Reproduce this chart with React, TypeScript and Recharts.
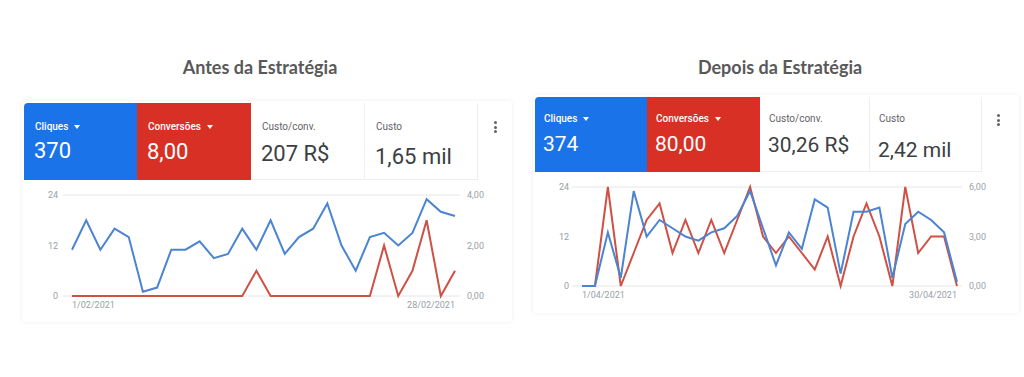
import React from 'react';
import { LineChart, Line, XAxis, YAxis, CartesianGrid } from 'recharts';

const BEFORE_DATES = ['1/02/2021', '2/02/2021', '3/02/2021', '4/02/2021', '5/02/2021', '6/02/2021', '7/02/2021', '8/02/2021', '9/02/2021', '10/02/2021', '11/02/2021', '12/02/2021', '13/02/2021', '14/02/2021', '15/02/2021', '16/02/2021', '17/02/2021', '18/02/2021', '19/02/2021', '20/02/2021', '21/02/2021', '22/02/2021', '23/02/2021', '24/02/2021', '25/02/2021', '26/02/2021', '27/02/2021', '28/02/2021'];
const BEFORE_CLIQUES = [11, 18, 11, 16, 14, 1, 2, 11, 11, 13, 9, 10, 16, 11, 18, 10, 14, 16, 22, 12, 6, 14, 15, 12, 15, 23, 20, 19];
const BEFORE_CONVERSOES = [0, 0, 0, 0, 0, 0, 0, 0, 0, 0, 0, 0, 0, 1, 0, 0, 0, 0, 0, 0, 0, 0, 2, 0, 1, 3, 0, 1];

const AFTER_DATES = ['1/04/2021', '2/04/2021', '3/04/2021', '4/04/2021', '5/04/2021', '6/04/2021', '7/04/2021', '8/04/2021', '9/04/2021', '10/04/2021', '11/04/2021', '12/04/2021', '13/04/2021', '14/04/2021', '15/04/2021', '16/04/2021', '17/04/2021', '18/04/2021', '19/04/2021', '20/04/2021', '21/04/2021', '22/04/2021', '23/04/2021', '24/04/2021', '25/04/2021', '26/04/2021', '27/04/2021', '28/04/2021', '29/04/2021', '30/04/2021'];
const AFTER_CLIQUES = [0, 0, 13, 2, 23, 12, 16, 14, 12, 11, 13, 14, 17, 23, 14, 5, 13, 9, 21, 19, 3, 18, 18, 19, 2, 15, 18, 16, 13, 1];
const AFTER_CONVERSOES = [0, 0, 6, 0, 2, 4, 5, 2, 4, 2, 4, 2, 4, 6, 3, 2, 3, 2, 1, 3, 0, 3, 5, 3, 0, 6, 2, 3, 3, 0];

const CLICK_TICKS = [0, 12, 24];
const BEFORE_CONV_TICKS = [0, 2, 4];
const AFTER_CONV_TICKS = [0, 3, 6];

const TITLES = ['Antes da Estratégia', 'Depois da Estratégia'];
const CARD_LABELS = ['Cliques', 'Conversões', 'Custo/conv.', 'Custo'];
const BEFORE_CARD_VALUES = ['370', '8,00', '207 R$', '1,65 mil'];
const AFTER_CARD_VALUES = ['374', '80,00', '30,26 R$', '2,42 mil'];

const BLUE_LINE = '#4a84d2';
const RED_LINE = '#cf5044';
const BLUE_CARD = '#1a73e8';
const RED_CARD = '#d93025';
const FONT = 'Roboto, sans-serif';

const fmtConv = (v: number) => v.toFixed(2).replace('.', ',');

type Geom = {
  titleX: number; titleY: number;
  boxL: number; boxT: number; boxW: number; boxH: number;
  cardTop: number; cardH: number; cardXs: number[];
  textL: number;
  labelOff: number; valueOffs: number[]; valueFont: number;
  dotsX: number; dotsY: number;
  chartL: number; chartT: number; chartW: number; chartH: number;
  yLeftW: number; yRightW: number; padL: number; padR: number;
  xAxisH: number; leftTickMargin: number; rightTickMargin: number;
};

const XTick = (props: any) => {
  const { x, y, payload, first } = props;
  const anchor = payload.value === first ? 'start' : 'end';
  return (
    <text x={x} y={y} dy="0.71em" textAnchor={anchor} fontSize={9} fill="#9aa0a6" fontFamily={FONT}>
      {payload.value}
    </text>
  );
};

function Panel(props: {
  title: string; dates: string[]; clicks: number[]; convs: number[];
  convTicks: number[]; values: string[]; g: Geom;
}) {
  const { title, dates, clicks, convs, convTicks, values, g } = props;
  const data = dates.map((d, i) => ({ date: d, cliques: clicks[i], conversoes: convs[i] }));
  const first = dates[0];
  const last = dates[dates.length - 1];
  const convMax = convTicks[convTicks.length - 1];
  return (
    <>
      <div style={{ position: 'absolute', left: g.titleX - 150, width: 300, top: g.titleY, textAlign: 'center', fontFamily: 'Lato, sans-serif', fontWeight: 700, fontSize: 18, lineHeight: '20px', color: '#595959' }}>
        {title}
      </div>
      <div style={{ position: 'absolute', left: g.boxL, top: g.boxT, width: g.boxW, height: g.boxH, background: '#fff', boxShadow: '0 0 4px rgba(0,0,0,0.07)', borderRadius: 3 }} />
      {values.map((v, i) => {
        const x0 = g.cardXs[i];
        const x1 = g.cardXs[i + 1];
        const bg = i === 0 ? BLUE_CARD : i === 1 ? RED_CARD : '#fff';
        const light = i < 2;
        return (
          <div key={i} style={{ position: 'absolute', left: x0, top: g.cardTop, width: x1 - x0, height: g.cardH, background: bg, borderTopLeftRadius: i === 0 ? 4 : 0, boxSizing: 'border-box', borderRight: light ? 'none' : '1px solid #eeeeee', borderBottom: light ? 'none' : '1px solid #eeeeee' }}>
            <div style={{ position: 'absolute', left: g.textL, top: g.labelOff, fontFamily: FONT, fontSize: 10, lineHeight: '10px', fontWeight: light ? 500 : 400, color: light ? '#ffffff' : '#5f6368', whiteSpace: 'nowrap' }}>
              {CARD_LABELS[i]}
              {light && <span style={{ display: 'inline-block', marginLeft: 6, verticalAlign: 'middle', width: 0, height: 0, borderLeft: '3.5px solid transparent', borderRight: '3.5px solid transparent', borderTop: '4px solid #fff' }} />}
            </div>
            <div style={{ position: 'absolute', left: g.textL - 1, top: g.valueOffs[i], fontFamily: FONT, fontSize: g.valueFont, lineHeight: `${g.valueFont}px`, color: light ? '#ffffff' : '#3c4043', whiteSpace: 'nowrap' }}>
              {v}
            </div>
          </div>
        );
      })}
      {[0, 1, 2].map((k) => (
        <div key={k} style={{ position: 'absolute', left: g.dotsX - 1.5, top: g.dotsY + k * 4.5, width: 3, height: 3, borderRadius: 2, background: '#5f6368' }} />
      ))}
      <div style={{ position: 'absolute', left: g.chartL, top: g.chartT }}>
        <LineChart width={g.chartW} height={g.chartH} data={data} margin={{ top: 10, right: 0, bottom: 0, left: 0 }}>
          <CartesianGrid horizontal vertical={false} stroke="#e6e6e6" />
          <XAxis dataKey="date" ticks={[first, last]} interval={0} padding={{ left: g.padL, right: g.padR }} axisLine={false} tickLine={false} tickSize={0} tickMargin={6} height={g.xAxisH} tick={<XTick first={first} />} />
          <YAxis yAxisId="left" orientation="left" domain={[0, 24]} ticks={CLICK_TICKS} width={g.yLeftW} axisLine={false} tickLine={false} tickSize={0} tickMargin={g.leftTickMargin} tick={{ fontSize: 9, fill: '#9aa0a6', fontFamily: FONT }} />
          <YAxis yAxisId="right" orientation="right" domain={[0, convMax]} ticks={convTicks} tickFormatter={fmtConv} width={g.yRightW} axisLine={false} tickLine={false} tickSize={0} tickMargin={g.rightTickMargin} tick={{ fontSize: 9, fill: '#9aa0a6', fontFamily: FONT, textAnchor: 'start' }} />
          <Line yAxisId="right" dataKey="conversoes" type="linear" stroke={RED_LINE} strokeWidth={2} dot={false} isAnimationActive={false} />
          <Line yAxisId="left" dataKey="cliques" type="linear" stroke={BLUE_LINE} strokeWidth={2} dot={false} isAnimationActive={false} />
        </LineChart>
      </div>
    </>
  );
}

const LEFT_G: Geom = {
  titleX: 260, titleY: 57,
  boxL: 22, boxT: 101, boxW: 490, boxH: 221,
  cardTop: 103, cardH: 77, cardXs: [24, 137, 251, 365, 478],
  textL: 11,
  labelOff: 19, valueOffs: [37, 38, 40, 43], valueFont: 22,
  dotsX: 495, dotsY: 121,
  chartL: 24, chartT: 185, chartW: 488, chartH: 130,
  yLeftW: 39, yRightW: 52, padL: 9, padR: 5,
  xAxisH: 19, leftTickMargin: 5, rightTickMargin: 7,
};

const RIGHT_G: Geom = {
  titleX: 780, titleY: 57,
  boxL: 533, boxT: 95, boxW: 486, boxH: 218,
  cardTop: 97, cardH: 75, cardXs: [535, 647, 760, 870, 982],
  textL: 9,
  labelOff: 17, valueOffs: [37, 37, 38, 43], valueFont: 21,
  dotsX: 998, dotsY: 114,
  chartL: 535, chartT: 177, chartW: 483, chartH: 128,
  yLeftW: 37, yRightW: 56, padL: 10, padR: 5,
  xAxisH: 19, leftTickMargin: 3, rightTickMargin: 7,
};

export default function App() {
  return (
    <div style={{ position: 'absolute', left: 0, top: 0, width: 1024, height: 377, background: '#ffffff', overflow: 'hidden' }}>
      <Panel title={TITLES[0]} dates={BEFORE_DATES} clicks={BEFORE_CLIQUES} convs={BEFORE_CONVERSOES} convTicks={BEFORE_CONV_TICKS} values={BEFORE_CARD_VALUES} g={LEFT_G} />
      <Panel title={TITLES[1]} dates={AFTER_DATES} clicks={AFTER_CLIQUES} convs={AFTER_CONVERSOES} convTicks={AFTER_CONV_TICKS} values={AFTER_CARD_VALUES} g={RIGHT_G} />
    </div>
  );
}
